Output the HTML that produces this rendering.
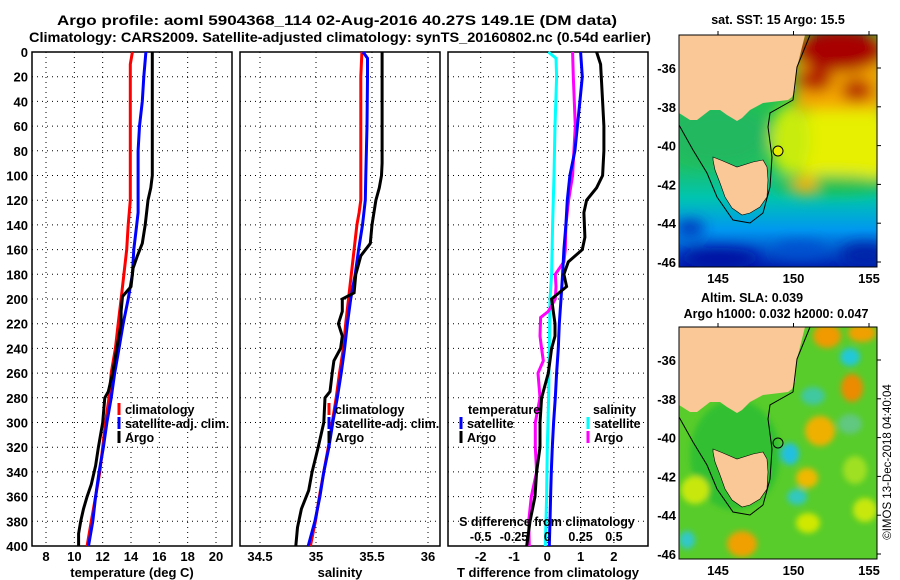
<!DOCTYPE html>
<html><head><meta charset="utf-8"><style>
body{margin:0;background:#fff;}
svg{display:block;font-family:"Liberation Sans",sans-serif;font-weight:bold;}
</style></head><body>
<svg id="fig" width="900" height="580" viewBox="0 0 900 580">
<defs>
<filter id="bl" x="-50%" y="-50%" width="200%" height="200%"><feGaussianBlur stdDeviation="7"/></filter>
<filter id="bl2" x="-50%" y="-50%" width="200%" height="200%"><feGaussianBlur stdDeviation="3"/></filter>
<clipPath id="m1"><rect x="679" y="35" width="198" height="232"/></clipPath>
<clipPath id="m2"><rect x="679" y="327" width="198" height="232"/></clipPath>
<linearGradient id="sstg" x1="0" y1="0" x2="0" y2="1">
<stop offset="0" stop-color="#22c040"/><stop offset="0.55" stop-color="#20c060"/><stop offset="0.7" stop-color="#00c4b0"/><stop offset="0.84" stop-color="#0098f0"/><stop offset="1" stop-color="#0020b0"/>
</linearGradient>
</defs>
<text x="337" y="25" text-anchor="middle" font-size="13.5" textLength="560" lengthAdjust="spacingAndGlyphs">Argo profile: aoml 5904368_114 02-Aug-2016 40.27S 149.1E (DM data)</text>
<text x="340" y="42" text-anchor="middle" font-size="13.5" textLength="622" lengthAdjust="spacingAndGlyphs">Climatology: CARS2009. Satellite-adjusted climatology: synTS_20160802.nc (0.54d earlier)</text>
<g id="panels"></g>

<g>
<text x="778" y="24" text-anchor="middle" font-size="12.5">sat. SST: 15 Argo: 15.5</text>
<g clip-path="url(#m1)">
<rect x="679" y="35" width="198" height="232" fill="url(#sstg)"/>
<g filter="url(#bl)">
<ellipse cx="845" cy="145" rx="55" ry="45" fill="#e6f000"/>
<ellipse cx="790" cy="140" rx="20" ry="35" fill="#c8ec10"/>
<rect x="795" y="35" width="90" height="75" fill="#f4a800"/>
<ellipse cx="840" cy="50" rx="45" ry="22" fill="#a80000"/>
<ellipse cx="815" cy="80" rx="18" ry="12" fill="#b42000"/>
<ellipse cx="857" cy="90" rx="16" ry="12" fill="#b83000"/>
<ellipse cx="830" cy="185" rx="60" ry="10" fill="#20c050"/>
<ellipse cx="805" cy="185" rx="12" ry="10" fill="#f0b000"/>
<ellipse cx="720" cy="135" rx="50" ry="30" fill="#20b860"/>
<ellipse cx="720" cy="258" rx="40" ry="10" fill="#0010a0"/>
<ellipse cx="865" cy="255" rx="25" ry="12" fill="#0020a8"/>
<ellipse cx="690" cy="228" rx="15" ry="8" fill="#0030b8"/>
<ellipse cx="800" cy="250" rx="25" ry="8" fill="#0050d0"/>
</g>
<polygon points="679,35 805,35 797,67 795,90 792,97 788,100 763,103 750,110 742,118 737,121 727,115 720,110 710,110 697,120 690,120 679,113" fill="#fac896"/>
<polygon points="713,157 723,161 737,167 753,162 763,160 767,167 768,180 767,197 760,207 750,213 742,215 732,208 725,197 720,183 715,170 713,160" fill="#fac896" stroke="#000" stroke-width="0.6"/>
<polyline points="679,125 693,150 707,173 717,197 733,220 750,223 763,213 770,187 772,157 768,127 770,113 793,100 797,67 810,35" fill="none" stroke="#000" stroke-width="1"/>
<circle cx="778" cy="151" r="5" fill="#e8ee00" stroke="#000" stroke-width="1"/>
</g>
<rect x="679" y="35" width="198" height="232" fill="none" stroke="#000" stroke-width="1"/>
</g>

<g>
<text x="752" y="302" text-anchor="middle" font-size="12.5">Altim. SLA: 0.039</text>
<text x="776" y="318" text-anchor="middle" font-size="12.5">Argo h1000: 0.032 h2000: 0.047</text>
<g clip-path="url(#m2)">
<rect x="679" y="327" width="198" height="232" fill="#58cc2a"/>
<g filter="url(#bl2)">
<ellipse cx="735" cy="455" rx="45" ry="55" fill="#30c030"/>
<ellipse cx="827" cy="336" rx="14" ry="12" fill="#f09a00"/>
<ellipse cx="862" cy="333" rx="14" ry="9" fill="#f0a000"/>
<ellipse cx="850" cy="357" rx="10" ry="9" fill="#20c8d8"/>
<ellipse cx="852" cy="388" rx="11" ry="14" fill="#ec8a00"/>
<ellipse cx="813" cy="396" rx="12" ry="9" fill="#40c8a0"/>
<ellipse cx="820" cy="431" rx="15" ry="15" fill="#f0b000"/>
<ellipse cx="790" cy="454" rx="9" ry="11" fill="#20c0e0"/>
<ellipse cx="807" cy="478" rx="11" ry="10" fill="#f0b800"/>
<ellipse cx="797" cy="497" rx="10" ry="8" fill="#30c8c0"/>
<ellipse cx="808" cy="523" rx="12" ry="10" fill="#d0e800"/>
<ellipse cx="742" cy="544" rx="15" ry="13" fill="#f0a000"/>
<ellipse cx="687" cy="540" rx="8" ry="9" fill="#30c8c8"/>
<ellipse cx="695" cy="490" rx="14" ry="14" fill="#c8e810"/>
<ellipse cx="850" cy="424" rx="12" ry="10" fill="#60c880"/>
<ellipse cx="855" cy="470" rx="12" ry="14" fill="#a0e020"/>
<ellipse cx="865" cy="510" rx="12" ry="12" fill="#c8e810"/>
</g>
<polygon points="679,327 805,327 797,359 795,382 792,389 788,392 763,395 750,402 742,410 737,413 727,407 720,402 710,402 697,412 690,412 679,405" fill="#fac896"/>
<polygon points="713,449 723,453 737,459 753,454 763,452 767,459 768,472 767,489 760,499 750,505 742,507 732,500 725,489 720,475 715,462 713,452" fill="#fac896" stroke="#000" stroke-width="0.6"/>
<polyline points="679,417 693,442 707,465 717,489 733,512 750,515 763,505 770,479 772,449 768,419 770,405 793,392 797,359 810,327" fill="none" stroke="#000" stroke-width="1"/>
<circle cx="778" cy="443" r="5" fill="none" stroke="#000" stroke-width="1"/>
</g>
<rect x="679" y="327" width="198" height="232" fill="none" stroke="#000" stroke-width="1"/>
</g>
<text transform="translate(891,462) rotate(-90)" text-anchor="middle" font-size="11.5" font-weight="normal">©IMOS 13-Dec-2018 04:40:04</text>
</svg>
<script>
const depthTicks=[0,20,40,60,80,100,120,140,160,180,200,220,240,260,280,300,320,340,360,380,400];
const tempTicks=[8,10,12,14,16,18,20];
const salTicks=[34.5,35,35.5,36];
const tdiffTicks=[-2,-1,0,1,2];
const sdiffTicks=[-0.5,-0.25,0,0.25,0.5];
const sdiffTickLabels=["-0.5","-0.25","0","0.25","0.5"];
const latTicks=[-36,-38,-40,-42,-44,-46];
const lonTicks=[145,150,155];

const tClimD=[0,10,20,120,140,160,180,200,220,240,260,280,300,320,340,360,380,400];
const tClimV=[14.1,13.95,13.95,13.95,13.8,13.7,13.5,13.3,13.1,12.9,12.6,12.45,12.2,12.0,11.8,11.5,11.2,10.9];
const tSatD=[0,20,40,60,80,130,140,160,180,200,220,240,260,280,300,320,340,360,380,400];
const tSatV=[15.05,14.9,14.8,14.6,14.5,14.5,14.4,14.2,14.1,13.8,13.45,13.15,12.85,12.6,12.3,12.05,11.75,11.5,11.3,11.0];
const tArgoD=[0,100,110,120,140,155,165,175,190,198,210,220,240,260,275,280,300,320,335,350,360,370,380,390,400];
const tArgoV=[15.5,15.5,15.4,15.2,15.0,14.8,14.45,14.15,14.0,13.4,13.3,13.3,13.0,12.7,12.4,12.15,12.0,11.7,11.5,11.2,10.9,10.65,10.45,10.3,10.3];

const sClimD=[0,20,120,130,140,160,180,200,220,240,260,280,300,320,340,360,380,400];
const sClimV=[35.41,35.4,35.4,35.385,35.365,35.34,35.315,35.29,35.265,35.245,35.21,35.18,35.145,35.11,35.07,35.03,34.995,34.95];
const sSatD=[0,5,20,60,100,120,140,160,180,200,220,240,260,280,300,320,340,360,380,400];
const sSatV=[35.42,35.46,35.46,35.455,35.445,35.44,35.415,35.38,35.35,35.31,35.28,35.255,35.225,35.19,35.15,35.115,35.07,35.035,34.99,34.93];
const sArgoD=[0,90,100,110,120,140,155,165,180,195,200,210,220,230,240,250,260,275,280,300,320,340,355,370,385,400];
const sArgoV=[35.59,35.59,35.585,35.565,35.535,35.5,35.485,35.4,35.355,35.34,35.235,35.235,35.2,35.235,35.22,35.16,35.145,35.125,35.08,35.07,35.02,34.965,34.935,34.87,34.835,34.82];

const dtSatD=[0,20,40,80,100,120,140,160,180,200,220,240,260,280,300,320,340,360,380,400];
const dtSatV=[1.0,1.05,0.98,0.83,0.68,0.6,0.56,0.5,0.46,0.41,0.36,0.33,0.28,0.24,0.19,0.15,0.12,0.1,0.08,0.06];
const dtArgoD=[0,10,40,60,80,100,110,120,130,150,160,170,180,190,200,210,220,230,240,260,280,300,320,340,360,380,400];
const dtArgoV=[1.48,1.6,1.66,1.7,1.7,1.66,1.48,1.18,1.1,1.13,1.05,0.63,0.5,0.58,0.13,0.18,0.23,0.23,0.13,0.03,-0.17,-0.22,-0.22,-0.32,-0.37,-0.52,-0.62];
const dsSatD=[0,5,20,60,100,140,180,200,240,280,320,360,400];
const dsSatV=[0.0075,0.065,0.07,0.0575,0.05,0.04,0.0325,0.02,0.015,0.01,0,-0.005,-0.015];
const dsArgoD=[0,20,60,80,100,120,140,160,170,180,190,200,210,215,230,240,250,260,280,300,320,340,360,380,400];
const dsArgoV=[0.19,0.195,0.21,0.2,0.19,0.16,0.14,0.135,0.125,0.06,0.065,0.06,0.0075,-0.05,-0.055,-0.043,-0.03,-0.07,-0.055,-0.09,-0.09,-0.08,-0.12,-0.14,-0.135];

const TOP=52,BOT=546;
const yD=d=>TOP+d*(BOT-TOP)/400;
const xT=v=>46+(v-8)*(170/12);
const xS=v=>316+(v-35)*(56/0.5);
const xDT=v=>547.3+v*33.3;
const xDS=v=>547.3+v*133.2;
const yLat=lat=>68+(-36-lat)*19.4;
const xLon=lon=>718+(lon-145)*15.1;

const NS='http://www.w3.org/2000/svg';
const svg=document.getElementById('fig');
const G=document.getElementById('panels');
function mk(tag,attrs,parent){const e=document.createElementNS(NS,tag);for(const k in attrs)e.setAttribute(k,attrs[k]);(parent||G).appendChild(e);return e;}

const panels=[
 {x0:32,x1:232,name:'temperature-panel',ticks:tempTicks,labels:tempTicks.map(String),sx:xT,title:'temperature (deg C)'},
 {x0:240,x1:440,name:'salinity-panel',ticks:salTicks,labels:salTicks.map(String),sx:xS,title:'salinity'},
 {x0:448,x1:648,name:'difference-panel',ticks:tdiffTicks,labels:tdiffTicks.map(String),sx:xDT,title:'T difference from climatology'}
];
panels.forEach((p,i)=>{
 const g=mk('g',{});
 
 
 depthTicks.forEach(d=>{
  if(d>0&&d<400){const l=mk('line',{x1:p.x0,x2:p.x1,y1:yD(d),y2:yD(d),stroke:'#000','stroke-width':1,'stroke-dasharray':'1,4'},g);
  }
  if(i===0){const t=mk('text',{x:28,y:yD(d)+5,'text-anchor':'end','font-size':13},G);t.textContent=d;
  }
 });
 p.ticks.forEach((v,k)=>{
  const x=p.sx(v);
  const l=mk('line',{x1:x,x2:x,y1:TOP,y2:BOT,stroke:'#000','stroke-width':1,'stroke-dasharray':'1,4'},g);
  
  const t=mk('text',{x:x,y:561,'text-anchor':'middle','font-size':13},g);t.textContent=p.labels[k];
  
 });
 const r=mk('rect',{x:p.x0,y:TOP,width:p.x1-p.x0,height:BOT-TOP,fill:'none',stroke:'#000','stroke-width':1.5},g);
 
 const t=mk('text',{x:(p.x0+p.x1)/2,y:577,'text-anchor':'middle','font-size':13},g);t.textContent=p.title;
 
});

function line(D,V,sx,color,name){
 const pts=D.map((d,k)=>sx(V[k]).toFixed(1)+','+yD(d).toFixed(1)).join(' ');
 const pl=mk('polyline',{points:pts,fill:'none',stroke:color,'stroke-width':3,'stroke-linejoin':'miter'});
 
 
}
line(tClimD,tClimV,xT,'#ff0000','temp-climatology-line');
line(tSatD,tSatV,xT,'#0000ff','temp-satellite-line');
line(tArgoD,tArgoV,xT,'#000000','temp-argo-line');
line(sClimD,sClimV,xS,'#ff0000','sal-climatology-line');
line(sSatD,sSatV,xS,'#0000ff','sal-satellite-line');
line(sArgoD,sArgoV,xS,'#000000','sal-argo-line');
line(dsSatD,dsSatV,xDS,'#00ffff','sdiff-satellite-line');
line(dsArgoD,dsArgoV,xDS,'#ff00ff','sdiff-argo-line');
line(dtSatD,dtSatV,xDT,'#0000ff','tdiff-satellite-line');
line(dtArgoD,dtArgoV,xDT,'#000000','tdiff-argo-line');

function legend(x,y,color,label){
 const m=mk('line',{x1:x,x2:x,y1:y-11,y2:y+1,stroke:color,'stroke-width':3});
 
 const t=mk('text',{x:x+6,y:y,'font-size':12.5});t.textContent=label;
 
}
legend(119,414,'#ff0000','climatology');legend(119,428,'#0000ff','satellite-adj. clim.');legend(119,442,'#000000','Argo');
legend(329,414,'#ff0000','climatology');legend(329,428,'#0000ff','satellite-adj. clim.');legend(329,442,'#000000','Argo');
legend(461,428,'#0000ff','satellite');legend(461,442,'#000000','Argo');
legend(588,428,'#00ffff','satellite');legend(588,442,'#ff00ff','Argo');
let t=mk('text',{x:468,y:414,'font-size':12.5});t.textContent='temperature';

t=mk('text',{x:593,y:414,'font-size':12.5});t.textContent='salinity';

t=mk('text',{x:547,y:526,'text-anchor':'middle','font-size':12.5});t.textContent='S difference from climatology';

sdiffTicks.forEach((v,k)=>{const e=mk('text',{x:xDS(v),y:541,'text-anchor':'middle','font-size':12.5});e.textContent=sdiffTickLabels[k];
 });

[0,292].forEach(off=>{
 latTicks.forEach(lat=>{
  const y=yLat(lat)+off;
  const e=mk('text',{x:676,y:y+5,'text-anchor':'end','font-size':13},svg);e.textContent=lat;
  
  mk('line',{x1:877,x2:881,y1:y,y2:y,stroke:'#000'},svg);
 });
 lonTicks.forEach(lon=>{
  const x=xLon(lon);
  const e=mk('text',{x:x,y:283+off,'text-anchor':'middle','font-size':13},svg);e.textContent=lon;
  
  mk('line',{x1:x,x2:x,y1:31+off,y2:35+off,stroke:'#000'},svg);
 });
});
</script>
</body></html>
